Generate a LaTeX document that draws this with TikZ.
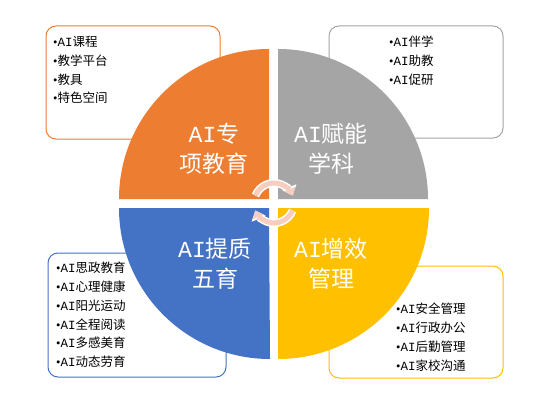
\documentclass[tikz,border=0pt]{standalone}
\usepackage{fontspec}
\setmainfont{Noto Sans CJK SC}
\newfontfamily\bulfont{Liberation Serif}
\newfontfamily\aifont{Liberation Mono}
\newcommand{\bu}{{\bulfont •}}
\newcommand{\ai}{{\aifont AI}}
\usetikzlibrary{arrows.meta}
\definecolor{qorange}{HTML}{ED7D31}
\definecolor{qgray}{HTML}{A5A5A5}
\definecolor{qblue}{HTML}{4472C4}
\definecolor{qyellow}{HTML}{FFC000}
\definecolor{qpink}{HTML}{F6CDBE}
\begin{document}
\begin{tikzpicture}[x=1pt,y=1pt,
  listbox/.style={rounded corners=10pt, line width=1pt, fill=white},
  listtext/.style={anchor=north west, inner sep=0pt, align=left, text=black,
    font=\fontsize{12.5}{18.8}\selectfont},
  lab/.style={text=white, align=center, inner sep=0pt, font=\fontsize{23}{30}\selectfont},
  cycw/.style={white, line width=8pt, -{Triangle[width=15pt,length=9pt]}},
  cycp/.style={qpink, line width=5pt, -{Triangle[width=12pt,length=7pt]}}]
\useasboundingbox[fill=white] (0,0) rectangle (553,400);
% list boxes
\draw[listbox, draw=qorange] (46,261) rectangle (220,374);
\draw[listbox, draw=qgray] (329,262) rectangle (503,374);
\draw[listbox, draw=qblue] (48,23) rectangle (226,147);
\draw[listbox, draw=qyellow] (329,22) rectangle (503,134);
% quadrants
\fill[qorange] (269,201) -- (119,201) arc[start angle=180, end angle=90, radius=150] -- cycle;
\fill[qgray] (278,201) -- (278,351) arc[start angle=90, end angle=0, radius=150] -- cycle;
\fill[qblue] (269,192) -- (119,192) arc[start angle=180, end angle=270, radius=151] -- cycle;
\fill[qyellow] (278,192) -- (429,192) arc[start angle=0, end angle=-90, radius=151] -- cycle;
% list texts
\node[listtext] (t1) at (53,364) {\bu\ai 课程\\\bu 教学平台\\\bu 教具\\\bu 特色空间};
\node[listtext] (t2) at (389,364) {\bu\ai 伴学\\\bu\ai 助教\\\bu\ai 促研};
\node[listtext] (t3) at (56,138) {\bu\ai 思政教育\\\bu\ai 心理健康\\\bu\ai 阳光运动\\\bu\ai 全程阅读\\\bu\ai 多感美育\\\bu\ai 动态劳育};
\node[listtext] (t4) at (396,97) {\bu\ai 安全管理\\\bu\ai 行政办公\\\bu\ai 后勤管理\\\bu\ai 家校沟通};
% labels
\node[lab] (l1) at (214,251) {\ai 专\\项教育};
\node[lab] (l2) at (331,251) {\ai 赋能\\学科};
\node[lab] (l3) at (215,136) {\ai 提质\\五育};
\node[lab] (l4) at (331,136) {\ai 增效\\管理};
% cycle arrows
\coordinate (c) at (274,197);
\draw[cycw] ([shift={(158:20)}]c) arc[start angle=158, end angle=22, radius=20];
\draw[cycp] ([shift={(158:20)}]c) arc[start angle=158, end angle=22, radius=20];
\draw[cycw] ([shift={(-22:20)}]c) arc[start angle=-22, end angle=-158, radius=20];
\draw[cycp] ([shift={(-22:20)}]c) arc[start angle=-22, end angle=-158, radius=20];
\end{tikzpicture}
\end{document}
